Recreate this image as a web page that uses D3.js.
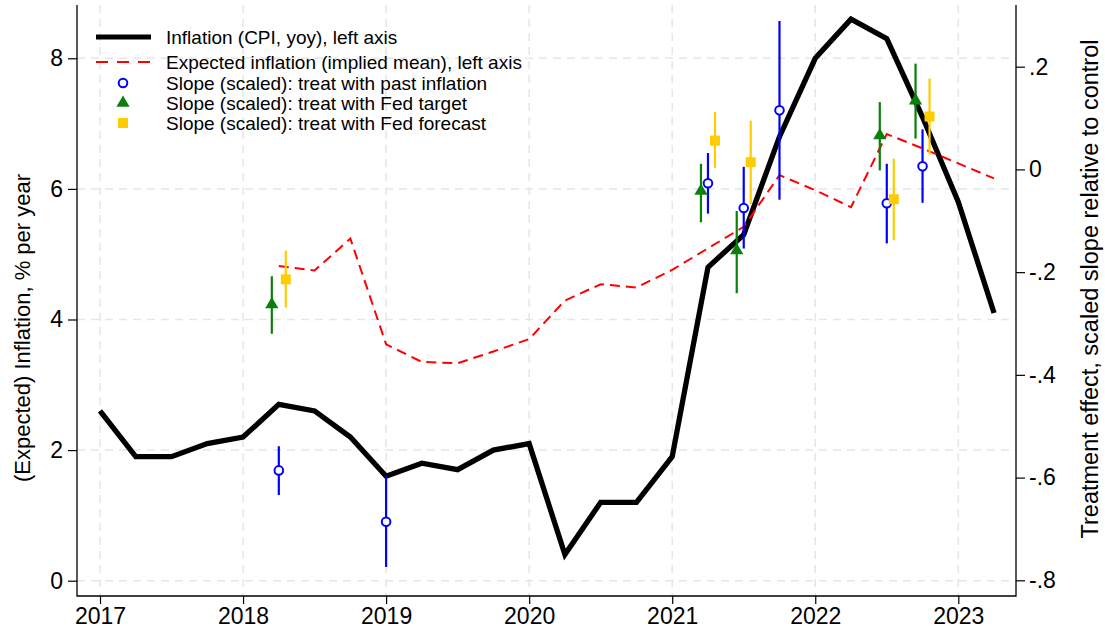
<!DOCTYPE html>
<html>
<head>
<meta charset="utf-8">
<script src="https://cdn.jsdelivr.net/npm/d3@7"></script>
<style>
  body { margin: 0; background: #fff; }
  svg { font-family: "Liberation Sans", Arimo, sans-serif; }
</style>
</head>
<body>
<svg id="chart" width="1105" height="634"></svg>
<script>
// quarterly CPI inflation, left axis
var cpiQuarters = ["2017Q1","2017Q2","2017Q3","2017Q4","2018Q1","2018Q2","2018Q3","2018Q4",
  "2019Q1","2019Q2","2019Q3","2019Q4","2020Q1","2020Q2","2020Q3","2020Q4",
  "2021Q1","2021Q2","2021Q3","2021Q4","2022Q1","2022Q2","2022Q3","2022Q4","2023Q1","2023Q2"]
var cpiValues = [2.6,1.9,1.9,2.1,2.2,2.7,2.6,2.2,1.6,1.8,1.7,2.0,2.1,0.4,1.2,1.2,1.9,4.8,5.3,6.8,8.0,8.6,8.3,7.1,5.8,4.1]

// expected inflation (implied mean), left axis
var expQuarters = ["2018Q2","2018Q3","2018Q4","2019Q1","2019Q2","2019Q3","2019Q4","2020Q1","2020Q2","2020Q3","2020Q4",
  "2021Q1","2021Q2","2021Q3","2021Q4","2022Q1","2022Q2","2022Q3","2022Q4","2023Q1","2023Q2"]
var expValues = [4.82,4.75,5.24,3.62,3.35,3.33,3.51,3.70,4.29,4.54,4.49,4.76,5.09,5.42,6.21,5.98,5.72,6.84,6.62,6.39,6.16]

// slopes (right axis): estimate, lower, upper
var pastQuarters = ["2018Q2","2019Q1","2021Q2","2021Q3","2021Q4","2022Q3","2022Q4"]
var pastEst = [-0.586,-0.686,-0.027,-0.075,0.115,-0.066,0.006]
var pastLo  = [-0.634,-0.774,-0.086,-0.154,-0.059,-0.144,-0.065]
var pastHi  = [-0.539,-0.596,0.032,0.005,0.289,0.011,0.078]

var targetQuarters = ["2018Q2","2021Q2","2021Q3","2022Q3","2022Q4"]
var targetEst = [-0.263,-0.042,-0.158,0.066,0.134]
var targetLo  = [-0.320,-0.103,-0.241,-0.002,0.060]
var targetHi  = [-0.208,0.011,-0.081,0.131,0.206]

var forecastQuarters = ["2018Q2","2021Q2","2021Q3","2022Q3","2022Q4"]
var forecastEst = [-0.214,0.056,0.014,-0.058,0.103]
var forecastLo  = [-0.269,0.003,-0.068,-0.138,0.029]
var forecastHi  = [-0.158,0.112,0.095,0.021,0.177]

var yearTicks = [2017,2018,2019,2020,2021,2022,2023]
var leftTicks = [0,2,4,6,8]
var rightTicks = [-0.8,-0.6,-0.4,-0.2,0,0.2]
var rightTickLabels = ["-.8","-.6","-.4","-.2","0",".2"]

var legendLabels = ["Inflation (CPI, yoy), left axis",
  "Expected inflation (implied mean), left axis",
  "Slope (scaled): treat with past inflation",
  "Slope (scaled): treat with Fed target",
  "Slope (scaled): treat with Fed forecast"]

function qToYear(q) {
  return +q.substr(0,4) + (+q.substr(5) - 1) / 4
}

var plotLeft = 77, plotRight = 1016, plotTop = 5, plotBottom = 596
var svg = d3.select("#chart")

var x = d3.scaleLinear().domain([2017, 2023]).range([100, 958.3])
var yL = d3.scaleLinear().domain([0, 8]).range([580.7, 58.3])
var yR = d3.scaleLinear().domain([-0.8, 0.2]).range([580.3, 66.7])

var gridColor = "#e6e6e6"
var grid = svg.append("g")
grid.selectAll(".hgrid").data(leftTicks).enter().append("line")
  .attr("x1", plotLeft).attr("x2", plotRight)
  .attr("y1", yL).attr("y2", yL)
  .attr("stroke", gridColor).attr("stroke-width", 1.5).attr("stroke-dasharray", "8,6")
grid.selectAll(".vgrid").data(yearTicks).enter().append("line")
  .attr("x1", x).attr("x2", x)
  .attr("y1", plotTop).attr("y2", plotBottom)
  .attr("stroke", gridColor).attr("stroke-width", 1.5).attr("stroke-dasharray", "8,6")

// axes
function styleAxis(g) {
  g.attr("font-family", null).attr("font-size", null)
  g.select(".domain").remove()
  g.selectAll(".tick line").attr("stroke", "#000").attr("stroke-width", 1.2)
  g.selectAll(".tick text").attr("font-size", 23).attr("fill", "#000")
}
svg.append("g").attr("transform", "translate(" + plotLeft + ",0)")
  .call(d3.axisLeft(yL).tickValues(leftTicks).tickSize(9).tickPadding(5))
  .call(styleAxis)
svg.append("g").attr("transform", "translate(" + plotRight + ",0)")
  .call(d3.axisRight(yR).tickValues(rightTicks).tickSize(9).tickPadding(4)
    .tickFormat(function(d, i) { return rightTickLabels[i] }))
  .call(styleAxis)
svg.append("g").attr("transform", "translate(0," + plotBottom + ")")
  .call(d3.axisBottom(x).tickValues(yearTicks).tickSize(8).tickPadding(4).tickFormat(d3.format("d")))
  .call(styleAxis)

svg.append("path")
  .attr("d", "M" + plotLeft + "," + plotTop + "V" + plotBottom + "H" + plotRight + "V" + plotTop)
  .attr("fill", "none").attr("stroke", "#000").attr("stroke-width", 1.3)

svg.append("text")
  .attr("transform", "translate(30,328) rotate(-90)")
  .attr("text-anchor", "middle").attr("font-size", 22)
  .text("(Expected) Inflation, % per year")
svg.append("text")
  .attr("transform", "translate(1098,289) rotate(-90)")
  .attr("text-anchor", "middle").attr("font-size", 23.5)
  .text("Treatment effect, scaled slope relative to control")

// lines
var cpi = cpiQuarters.map(function(q, i) { return {t: qToYear(q), v: cpiValues[i]} })
var expd = expQuarters.map(function(q, i) { return {t: qToYear(q), v: expValues[i]} })
var lineL = d3.line().x(function(d) { return x(d.t) }).y(function(d) { return yL(d.v) })

svg.append("path").datum(cpi).attr("d", lineL)
  .attr("fill", "none").attr("stroke", "#000").attr("stroke-width", 5.3).attr("stroke-linejoin", "miter")
svg.append("path").datum(expd).attr("d", lineL)
  .attr("fill", "none").attr("stroke", "#ff0000").attr("stroke-width", 2).attr("stroke-dasharray", "10,6")

// slope series
var series = [
  {q: pastQuarters, est: pastEst, lo: pastLo, hi: pastHi, color: "#0000ff", shift: 0, kind: "circle"},
  {q: targetQuarters, est: targetEst, lo: targetLo, hi: targetHi, color: "#0a7f0a", shift: -7, kind: "triangle"},
  {q: forecastQuarters, est: forecastEst, lo: forecastLo, hi: forecastHi, color: "#ffcc00", shift: 7, kind: "square"}
]

function drawMarker(g, kind, color) {
  if (kind == "circle")
    g.append("circle").attr("r", 4.3).attr("fill", "#fff").attr("stroke", color).attr("stroke-width", 2)
  else if (kind == "triangle")
    g.append("path").attr("d", d3.symbol(d3.symbolTriangle, 75)()).attr("fill", color)
  else
    g.append("path").attr("d", d3.symbol(d3.symbolSquare, 100)()).attr("fill", color)
}

series.forEach(function(s) {
  var pts = s.q.map(function(q, i) { return {t: qToYear(q), est: s.est[i], lo: s.lo[i], hi: s.hi[i]} })
  var g = svg.append("g")
  g.selectAll("line").data(pts).enter().append("line")
    .attr("x1", function(d) { return x(d.t) + s.shift })
    .attr("x2", function(d) { return x(d.t) + s.shift })
    .attr("y1", function(d) { return yR(d.lo) })
    .attr("y2", function(d) { return yR(d.hi) })
    .attr("stroke", s.color).attr("stroke-width", 2.2)
  g.selectAll(".mk").data(pts).enter().append("g")
    .attr("transform", function(d) { return "translate(" + (x(d.t) + s.shift) + "," + yR(d.est) + ")" })
    .each(function() { drawMarker(d3.select(this), s.kind, s.color) })
})

// legend
var legY = [37, 62, 83, 103, 123]
var leg = svg.append("g")
leg.append("line").attr("x1", 96).attr("x2", 151).attr("y1", legY[0]).attr("y2", legY[0])
  .attr("stroke", "#000").attr("stroke-width", 5)
leg.append("line").attr("x1", 96).attr("x2", 151).attr("y1", legY[1]).attr("y2", legY[1])
  .attr("stroke", "#ff0000").attr("stroke-width", 2).attr("stroke-dasharray", "12,9")
for (var i=2 ; i<5 ; i++) {
  var mg = leg.append("g").attr("transform", "translate(123," + legY[i] + ")")
  drawMarker(mg, series[i-2].kind, series[i-2].color)
}
leg.selectAll("text").data(legendLabels).enter().append("text")
  .attr("x", 166).attr("y", function(d, i) { return legY[i] })
  .attr("dy", "0.36em").attr("font-size", 19)
  .text(function(d) { return d })
</script>
</body>
</html>
